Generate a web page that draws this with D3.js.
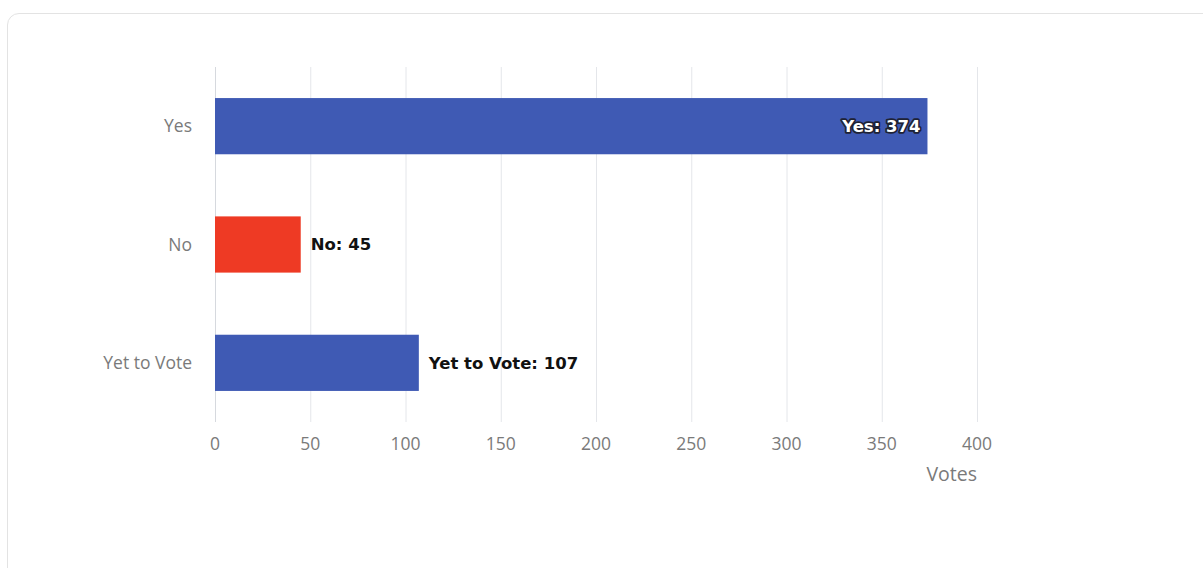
<!DOCTYPE html>
<html lang="en">
<head>
<meta charset="utf-8">
<title>Votes</title>
<script src="https://d3js.org/d3.v7.min.js"></script>
<style type="text/css">
  body { margin: 0; background: #fff; }
  .card {
    position: absolute; left: 7px; top: 13px;
    width: 1220px; height: 600px;
    border: 1px solid #e3e3e3; border-radius: 12px;
    box-sizing: border-box;
  }
  svg { position: absolute; left: 0; top: 0; }
</style>
</head>
<body>
<div class="card"></div>
<script type="text/javascript">

// chart data
const categories = ["Yes", "No", "Yet to Vote"];
const votes = [374, 45, 107];
const barColors = ["#3f5ab4", "#ee3a24", "#3f5ab4"];
const xTicks = [0, 50, 100, 150, 200, 250, 300, 350, 400];
const xTitle = "Votes";

const width = 1203;
const height = 568;
const svg = d3.select("body")
              .append("svg")
              .attr("width", width)
              .attr("height", height);

// plot area
const plotLeft = 215, plotRight = 977, plotTop = 67, plotBottom = 422;

const x = d3.scaleLinear()
            .domain([0, 400])
            .range([plotLeft, plotRight]);

const y = d3.scaleBand()
            .domain(categories)
            .range([plotTop, plotBottom])
            .paddingInner(0.525)
            .paddingOuter(0.2625);

// gridlines
svg.append("g")
   .selectAll("line")
   .data(xTicks)
   .join("line")
   .attr("x1", d => x(d) + 0.5)
   .attr("x2", d => x(d) + 0.5)
   .attr("y1", plotTop)
   .attr("y2", plotBottom)
   .attr("stroke", d => d === 0 ? "#d6d9de" : "#e4e6ea")
   .attr("stroke-width", 1);

// tick labels
svg.append("g")
   .selectAll("text")
   .data(xTicks)
   .join("text")
   .attr("x", d => x(d))
   .attr("y", 450)
   .attr("text-anchor", "middle")
   .attr("font-family", "'Open Sans', sans-serif")
   .attr("font-size", "17.5px")
   .attr("fill", "#7a7a7a")
   .text(d => d);

svg.append("text")
   .attr("x", plotRight)
   .attr("y", 481)
   .attr("text-anchor", "end")
   .attr("font-family", "'Open Sans', sans-serif")
   .attr("font-size", "19.5px")
   .attr("fill", "#7a7a7a")
   .text(xTitle);

// category labels
svg.append("g")
   .selectAll("text")
   .data(categories)
   .join("text")
   .attr("x", plotLeft - 23)
   .attr("y", d => y(d) + y.bandwidth() / 2)
   .attr("dy", "0.35em")
   .attr("text-anchor", "end")
   .attr("font-family", "'Open Sans', sans-serif")
   .attr("font-size", "17.5px")
   .attr("fill", "#7a7a7a")
   .text(d => d);

// bars
svg.append("g")
   .selectAll("rect")
   .data(votes)
   .join("rect")
   .attr("x", x(0))
   .attr("y", (d, i) => y(categories[i]))
   .attr("width", d => x(d) - x(0))
   .attr("height", y.bandwidth())
   .attr("fill", (d, i) => barColors[i]);

// value labels: inside the bar when there is room, else to the right
const labels = svg.append("g")
   .selectAll("text")
   .data(votes)
   .join("text")
   .attr("y", (d, i) => y(categories[i]) + y.bandwidth() / 2)
   .attr("dy", "0.35em")
   .attr("font-family", "'DejaVu Sans', sans-serif")
   .attr("font-weight", "bold")
   .attr("font-size", "16.5px")
   .text((d, i) => categories[i] + ": " + d);

labels.each(function (d) {
    const t = d3.select(this);
    if (d > 200) {
        t.attr("x", x(d) - 7)
         .attr("text-anchor", "end")
         .attr("fill", "#ffffff")
         .attr("stroke", "#1e2235")
         .attr("stroke-width", 3.5)
         .attr("stroke-linejoin", "round")
         .attr("paint-order", "stroke");
    } else {
        t.attr("x", x(d) + 10)
         .attr("text-anchor", "start")
         .attr("fill", "#111111");
    }
});

</script>
</body>
</html>
